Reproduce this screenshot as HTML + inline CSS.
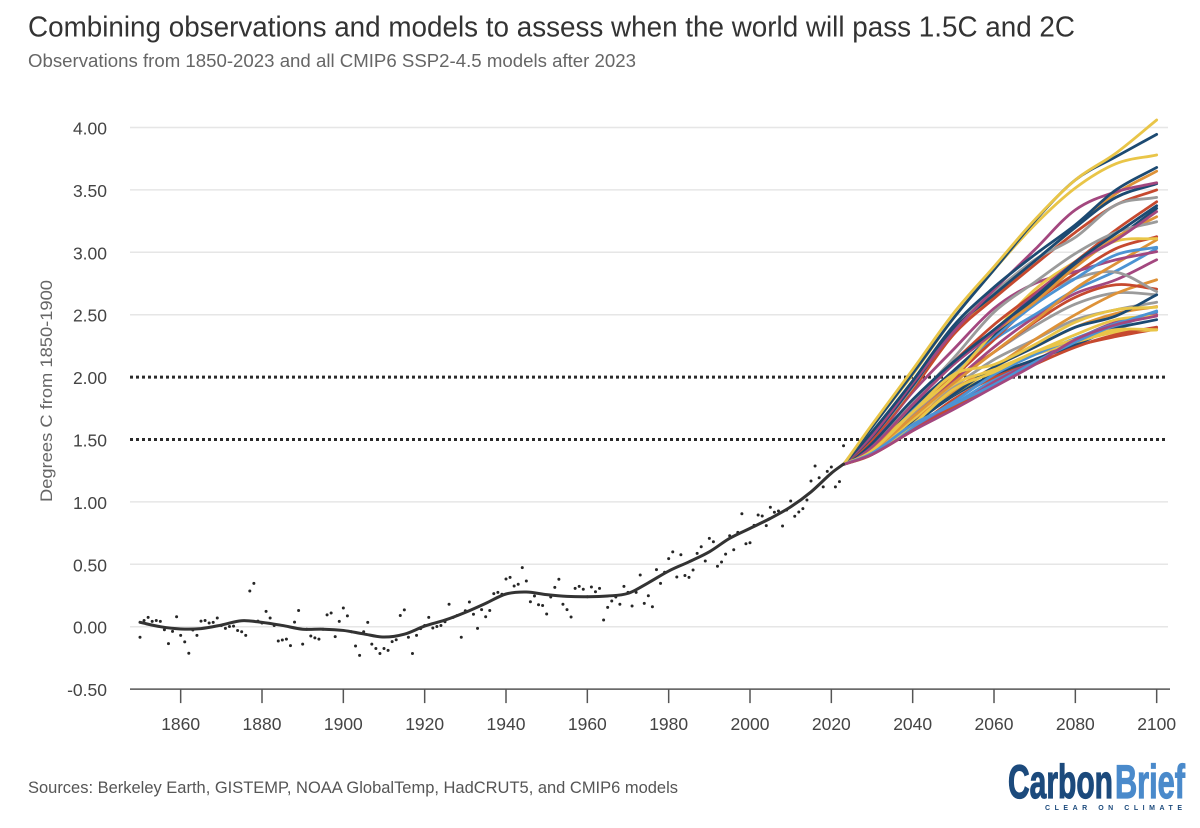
<!DOCTYPE html>
<html lang="en">
<head>
<meta charset="utf-8">
<title>Combining observations and models</title>
<style>
html,body{margin:0;padding:0;background:#fff;width:1200px;height:828px;overflow:hidden}
svg{display:block}
text{font-family:"Liberation Sans",Arial,sans-serif}
</style>
</head>
<body>
<svg id="chart" width="1200" height="828" viewBox="0 0 1200 828" xmlns="http://www.w3.org/2000/svg">
  <rect width="1200" height="828" fill="#ffffff"/>
  <text x="28" y="36.5" font-size="28.5" fill="#333333" textLength="1047" lengthAdjust="spacingAndGlyphs">Combining observations and models to assess when the world will pass 1.5C and 2C</text>
  <text x="28" y="67" font-size="18.6" fill="#666666" textLength="608" lengthAdjust="spacingAndGlyphs">Observations from 1850-2023 and all CMIP6 SSP2-4.5 models after 2023</text>
  <text transform="translate(52,391) rotate(-90)" text-anchor="middle" font-size="17" fill="#666666" textLength="222" lengthAdjust="spacingAndGlyphs">Degrees C from 1850-1900</text>
  <g id="grid"></g>
  <g id="refs"></g>
  <g id="models"></g>
  <g id="obs"></g>
  <g id="smooth"></g>
  <g id="xaxis"></g>
  <g id="yaxis"></g>
  <text x="28" y="793" font-size="17" fill="#555555" textLength="650" lengthAdjust="spacingAndGlyphs">Sources: Berkeley Earth, GISTEMP, NOAA GlobalTemp, HadCRUT5, and CMIP6 models</text>
  <g>
    <text x="1008" y="798" font-size="47" font-weight="700" fill="#1c4a7c" stroke="#1c4a7c" stroke-width="1.2" textLength="105" lengthAdjust="spacingAndGlyphs">Carbon</text>
    <text x="1115" y="798" font-size="47" font-weight="700" fill="#4a8acb" stroke="#4a8acb" stroke-width="1.2" textLength="70" lengthAdjust="spacingAndGlyphs">Brief</text>
    <text x="1045" y="810" font-size="7" font-weight="700" fill="#1c4a7c" textLength="137" lengthAdjust="spacing">CLEAR ON CLIMATE</text>
  </g>
</svg>
<script>
const yTickValues = [-0.5, 0, 0.5, 1, 1.5, 2, 2.5, 3, 3.5, 4];
const thresholdValues = [1.5, 2];
const xTickYears = [1860, 1880, 1900, 1920, 1940, 1960, 1980, 2000, 2020, 2040, 2060, 2080, 2100];

const obsStartYear = 1850;
const obsValues = [
  -0.085, 0.05, 0.075, 0.043, 0.05, 0.043, -0.024, -0.136, -0.037, 0.08,
  -0.07, -0.122, -0.213, -0.026, -0.07, 0.045, 0.05, 0.03, 0.035, 0.07,
  0.01, -0.013, 0.002, 0.005, -0.03, -0.04, -0.07, 0.286, 0.347, 0.045,
  0.03, 0.123, 0.07, 0.01, -0.115, -0.107, -0.1, -0.152, 0.037, 0.13,
  -0.14, -0.02, -0.075, -0.09, -0.1, -0.02, 0.095, 0.11, -0.08, 0.043,
  0.15, 0.087, -0.04, -0.155, -0.23, -0.04, 0.035, -0.14, -0.175, -0.215,
  -0.175, -0.19, -0.12, -0.105, 0.09, 0.135, -0.085, -0.215, -0.07, -0.015,
  0.01, 0.075, -0.01, 0.002, 0.01, 0.04, 0.18, 0.075, 0.09, -0.085,
  0.128, 0.198, 0.1, -0.013, 0.137, 0.08, 0.13, 0.265, 0.275, 0.26,
  0.382, 0.395, 0.326, 0.34, 0.473, 0.366, 0.2, 0.246, 0.176, 0.17,
  0.102, 0.238, 0.315, 0.38, 0.18, 0.137, 0.078, 0.307, 0.323, 0.3,
  0.24, 0.318, 0.28, 0.307, 0.054, 0.155, 0.206, 0.238, 0.18, 0.323,
  0.275, 0.166, 0.275, 0.414, 0.187, 0.248, 0.16, 0.457, 0.347, 0.436,
  0.545, 0.6, 0.398, 0.577, 0.41, 0.395, 0.454, 0.588, 0.641, 0.526,
  0.708, 0.681, 0.484, 0.518, 0.582, 0.729, 0.617, 0.756, 0.905, 0.665,
  0.673, 0.812, 0.895, 0.887, 0.81, 0.957, 0.917, 0.927, 0.807, 0.935,
  1.007, 0.885, 0.919, 0.946, 1.015, 1.167, 1.288, 1.194, 1.12, 1.245,
  1.28, 1.12, 1.162, 1.45
];

const trendYears = [1850,1855,1860,1865,1870,1875,1880,1885,1890,1895,1900,1905,1910,1915,1920,1925,1930,1935,1940,1945,1950,1955,1960,1965,1970,1975,1980,1985,1990,1995,2000,2005,2010,2015,2020,2023];
const trendValues = [0.035,0,-0.018,-0.015,0.013,0.048,0.035,0.01,-0.02,-0.02,-0.03,-0.058,-0.083,-0.06,0.005,0.053,0.115,0.187,0.262,0.278,0.257,0.243,0.24,0.246,0.267,0.352,0.446,0.52,0.6,0.708,0.788,0.868,0.96,1.08,1.23,1.303];

const modelYears = [2023,2030,2040,2050,2060,2070,2080,2090,2100];
const modelStart = 1.3;
const modelGroups = ['gray','blue','orange','red','purple','navy','gold','gray','orange','blue','red','purple','navy','gold','blue','gray','orange','red','purple','blue','navy','gold','orange','red','gray','purple','navy','orange','red','gray','navy','purple','navy','gold','gold','navy','gold','red','gold','blue','purple'];
const modelRuns = [
  [1.41,1.70,1.96,2.20,2.41,2.585,2.675,2.66],
  [1.38,1.60,1.78,1.98,2.14,2.26,2.40,2.52],
  [1.38,1.62,1.88,2.08,2.24,2.40,2.51,2.565],
  [1.38,1.58,1.82,2.00,2.14,2.25,2.325,2.385],
  [1.39,1.60,1.76,1.96,2.13,2.30,2.44,2.50],
  [1.39,1.62,1.85,2.02,2.14,2.26,2.39,2.46],
  [1.39,1.64,1.86,2.06,2.18,2.28,2.36,2.378],
  [1.41,1.68,1.92,2.14,2.30,2.46,2.54,2.60],
  [1.40,1.64,1.90,2.08,2.30,2.50,2.67,2.78],
  [1.39,1.60,1.80,2.02,2.18,2.31,2.43,2.525],
  [1.42,1.72,1.98,2.20,2.44,2.64,2.74,2.705],
  [1.41,1.68,1.96,2.24,2.48,2.67,2.78,2.94],
  [1.39,1.63,1.86,2.08,2.24,2.40,2.49,2.66],
  [1.40,1.66,1.94,2.06,2.20,2.34,2.46,2.49],
  [1.42,1.74,2.04,2.30,2.50,2.70,2.85,3.03],
  [1.44,1.76,2.02,2.30,2.62,2.79,2.84,2.685],
  [1.41,1.68,1.95,2.20,2.45,2.71,2.91,3.10],
  [1.44,1.74,2.00,2.30,2.60,2.83,3.03,3.125],
  [1.48,1.88,2.22,2.55,2.75,2.845,2.94,3.005],
  [1.42,1.74,2.05,2.32,2.58,2.79,2.98,3.04],
  [1.44,1.76,2.05,2.34,2.62,2.90,3.11,3.352],
  [1.43,1.72,2.00,2.36,2.70,2.925,3.09,3.11],
  [1.43,1.78,2.10,2.36,2.60,2.88,3.12,3.285],
  [1.46,1.80,2.12,2.42,2.67,2.925,3.18,3.405],
  [1.45,1.80,2.15,2.52,2.76,2.99,3.16,3.245],
  [1.44,1.78,2.10,2.36,2.66,2.92,3.10,3.326],
  [1.47,1.82,2.12,2.38,2.64,2.92,3.15,3.373],
  [1.50,1.90,2.34,2.65,2.93,3.20,3.47,3.65],
  [1.50,1.90,2.34,2.63,2.90,3.16,3.38,3.50],
  [1.52,1.92,2.40,2.68,2.94,3.12,3.38,3.44],
  [1.52,1.93,2.38,2.66,2.93,3.20,3.44,3.55],
  [1.53,1.95,2.36,2.70,3.02,3.34,3.485,3.557],
  [1.56,1.97,2.41,2.72,2.98,3.22,3.50,3.68],
  [1.41,1.72,2.02,2.10,2.26,2.44,2.54,2.56],
  [1.60,2.02,2.47,2.86,3.22,3.515,3.71,3.78],
  [1.60,2.03,2.47,2.86,3.25,3.58,3.766,3.945],
  [1.62,2.06,2.51,2.885,3.26,3.58,3.795,4.06],
  [1.38,1.57,1.76,1.94,2.10,2.24,2.34,2.40],
  [1.39,1.62,1.90,2.04,2.20,2.30,2.38,2.38],
  [1.39,1.62,1.78,1.94,2.12,2.28,2.42,2.53],
  [1.38,1.57,1.74,1.92,2.10,2.30,2.42,2.49]
];
const groupColors = {gold:'#e9c548',navy:'#1c4a72',blue:'#4c93d3',red:'#c6492f',orange:'#de9238',purple:'#a3477f',gray:'#9b9b9b'};

const SVGNS = 'http://www.w3.org/2000/svg';
const xScale = function (year) { return 140 + (year - 1850) * 4.0667; };
const yScale = function (v) { return 626.7 - v * 124.8; };
const plotLeft = 130, plotRight = 1168;

function make(parent, tag, attrs) {
  const el = document.createElementNS(SVGNS, tag);
  Object.keys(attrs).forEach(function (k) { el.setAttribute(k, attrs[k]); });
  parent.appendChild(el);
  return el;
}
function splinePath(pts) {
  const n = pts.length;
  const slopes = pts.map(function (p, i) {
    const a = pts[Math.max(i - 1, 0)], b = pts[Math.min(i + 1, n - 1)];
    return (b[1] - a[1]) / (b[0] - a[0]);
  });
  let d = 'M' + pts[0][0].toFixed(2) + ' ' + pts[0][1].toFixed(2);
  for (let i = 0; i < n - 1; i++) {
    const p1 = pts[i], p2 = pts[i + 1], h = (p2[0] - p1[0]) / 3;
    d += 'C' + (p1[0] + h).toFixed(2) + ' ' + (p1[1] + slopes[i] * h).toFixed(2) + ' ' + (p2[0] - h).toFixed(2) + ' ' + (p2[1] - slopes[i + 1] * h).toFixed(2) + ' ' + p2[0].toFixed(2) + ' ' + p2[1].toFixed(2);
  }
  return d;
}

const gridG = document.getElementById('grid');
const refsG = document.getElementById('refs');
const yaxisG = document.getElementById('yaxis');
const xaxisG = document.getElementById('xaxis');

yTickValues.forEach(function (v) {
  const y = yScale(v);
  if (v !== -0.5 && thresholdValues.indexOf(v) < 0) {
    const line = make(gridG, 'line', {x1: plotLeft, x2: plotRight, y1: y, y2: y, stroke: '#e6e6e6', 'stroke-width': 1.5});
    
    
  }
  const label = make(yaxisG, 'text', {x: 107, y: y + 7, 'text-anchor': 'end', 'font-size': 17.5, fill: '#444444'});
  label.textContent = v.toFixed(2);
  
  
});

thresholdValues.forEach(function (v) {
  const y = yScale(v);
  const line = make(refsG, 'line', {x1: plotLeft, x2: plotRight, y1: y, y2: y, stroke: '#2b2b2b', 'stroke-width': 3, 'stroke-dasharray': '3 3'});
  
  
});

modelRuns.forEach(function (run, i) {
  const pts = [[xScale(modelYears[0]), yScale(modelStart)]];
  run.forEach(function (v, j) { pts.push([xScale(modelYears[j + 1]), yScale(v)]); });
  const path = make(document.getElementById('models'), 'path', {d: splinePath(pts), fill: 'none', stroke: groupColors[modelGroups[i]], 'stroke-width': 2.8, 'stroke-linecap': 'round'});
  
  
});

obsValues.forEach(function (v, i) {
  const dot = make(document.getElementById('obs'), 'circle', {cx: xScale(obsStartYear + i), cy: yScale(v), r: 1.5, fill: '#262626'});
  
  
});

const trendPts = trendYears.map(function (yr, i) { return [xScale(yr), yScale(trendValues[i])]; });
const trend = make(document.getElementById('smooth'), 'path', {d: splinePath(trendPts), fill: 'none', stroke: '#333333', 'stroke-width': 3, 'stroke-linecap': 'round'});



const axisY = yScale(-0.5);
const axisLine = make(xaxisG, 'line', {x1: plotLeft, x2: 1170, y1: axisY, y2: axisY, stroke: '#555555', 'stroke-width': 1.5});


xTickYears.forEach(function (yr) {
  const x = xScale(yr);
  const tick = make(xaxisG, 'line', {x1: x, x2: x, y1: axisY, y2: axisY + 14, stroke: '#555555', 'stroke-width': 1.5});
  
  
  const label = make(xaxisG, 'text', {x: x, y: axisY + 41, 'text-anchor': 'middle', 'font-size': 17.5, fill: '#444444'});
  label.textContent = String(yr);
  
  
});
</script>
</body>
</html>
